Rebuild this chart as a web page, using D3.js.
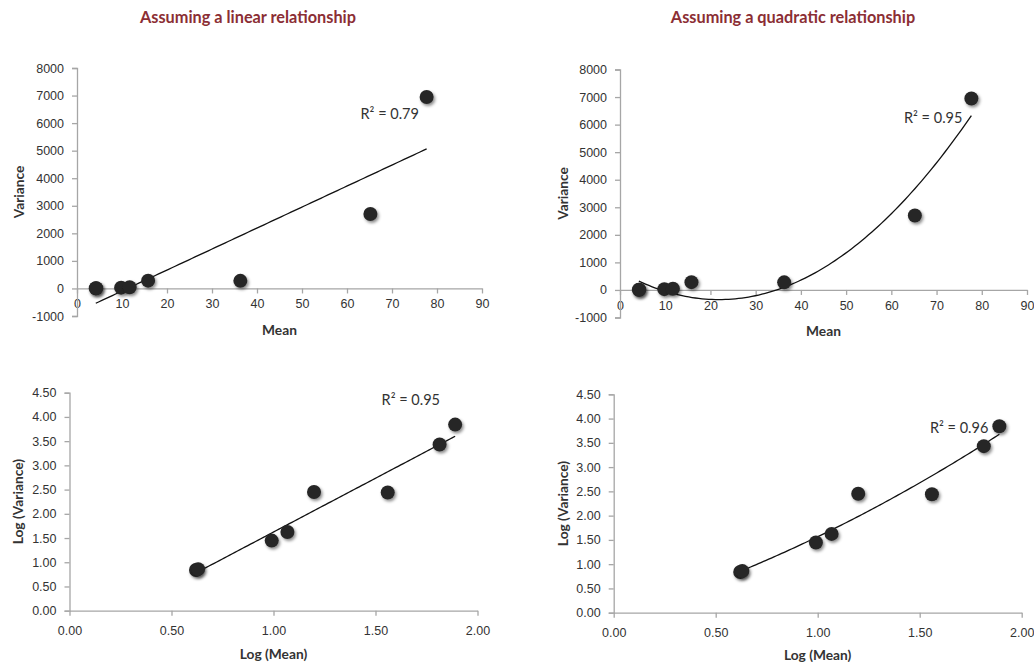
<!DOCTYPE html>
<html>
<head>
<meta charset="utf-8">
<script src="https://cdn.jsdelivr.net/npm/d3@7"></script>
<style>
  html, body { margin: 0; padding: 0; background: #fff; }
  svg { display: block; font-family: Lato, "Open Sans", sans-serif; }
  .tick text { font-size: 12.5px; fill: #333; }
  .axis path, .axis line { stroke: #a6a6a6; stroke-width: 1.3; }
  .ax-label { font-size: 13.75px; font-weight: bold; fill: #333; }
  .title { font-size: 16.3px; font-weight: bold; fill: #8b2e34; }
  .r2 { font-size: 14.5px; fill: #333; }
</style>
</head>
<body>
<svg id="chart" width="1034" height="662"></svg>
<script>
const means     = [4.17, 4.27, 9.8, 11.7, 15.8, 36.3, 65.2, 77.7];
const variances = [6.9, 7.2, 28, 42, 282, 275, 2700, 6950];

const rawXTicks = [0, 10, 20, 30, 40, 50, 60, 70, 80, 90];
const rawYTicks = [-1000, 0, 1000, 2000, 3000, 4000, 5000, 6000, 7000, 8000];
const logXTicks = [0, 0.5, 1, 1.5, 2];
const logYTicks = [0, 0.5, 1, 1.5, 2, 2.5, 3, 3.5, 4, 4.5];

const titles = ["Assuming a linear relationship", "Assuming a quadratic relationship"];
// R² as printed on each panel (top-left, top-right, bottom-left, bottom-right)
const r2Labels = ["R² = 0.79", "R² = 0.95", "R² = 0.95", "R² = 0.96"];

const svg = d3.select("#chart");

// drop shadow for markers, like the excel default
const defs = svg.append("defs");
defs.append("filter").attr("id", "shadow")
  .attr("x", "-50%").attr("y", "-50%").attr("width", "200%").attr("height", "200%")
  .append("feDropShadow")
  .attr("dx", 1.5).attr("dy", 2).attr("stdDeviation", 1.4)
  .attr("flood-color", "#000").attr("flood-opacity", 0.45);

// least squares polynomial fit (degree 1 or 2), returns coefficients c0..cn
function polyFit(xs, ys, deg) {
  const n = deg + 1;
  const A = [];
  for (let i = 0; i < n; i++) {
    A.push([]);
    for (let j = 0; j < n; j++) A[i].push(d3.sum(xs, x => Math.pow(x, i + j)));
    A[i].push(d3.sum(xs, (x, k) => ys[k] * Math.pow(x, i)));
  }
  // gauss elimination
  for (let i = 0; i < n; i++) {
    for (let r = i + 1; r < n; r++) {
      const f = A[r][i] / A[i][i];
      for (let c = i; c <= n; c++) A[r][c] -= f * A[i][c];
    }
  }
  const coef = new Array(n).fill(0);
  for (let i = n - 1; i >= 0; i--) {
    let s = A[i][n];
    for (let j = i + 1; j < n; j++) s -= A[i][j] * coef[j];
    coef[i] = s / A[i][i];
  }
  return coef;
}

function polyEval(coef, x) {
  return coef.reduce((s, c, i) => s + c * Math.pow(x, i), 0);
}

function drawPanel(cfg) {
  const xs = cfg.xs, ys = cfg.ys;
  const x = d3.scaleLinear().domain(cfg.xDomain).range(cfg.xRange);
  const y = d3.scaleLinear().domain(cfg.yDomain).range(cfg.yRange);
  const g = svg.append("g");

  // x axis sits on y = 0
  g.append("g").attr("class", "axis")
    .attr("transform", `translate(0,${y(0)})`)
    .call(d3.axisBottom(x).tickValues(cfg.xTicks).tickSize(5).tickPadding(cfg.xPad).tickSizeOuter(0).tickFormat(cfg.xFmt));

  g.append("g").attr("class", "axis")
    .attr("transform", `translate(${x(cfg.xDomain[0])},0)`)
    .call(d3.axisLeft(y).tickValues(cfg.yTicks).tickSize(5).tickPadding(cfg.yPad).tickSizeOuter(5).tickFormat(cfg.yFmt));

  // axis titles
  g.append("text").attr("class", "ax-label")
    .attr("x", d3.mean(cfg.xRange)).attr("y", cfg.xLabelY)
    .attr("text-anchor", "middle").attr("dominant-baseline", "central")
    .text(cfg.xLabel);
  g.append("text").attr("class", "ax-label")
    .attr("transform", `translate(${cfg.yLabelX},${d3.mean(cfg.yRange)}) rotate(-90)`)
    .attr("text-anchor", "middle").attr("dominant-baseline", "central")
    .text(cfg.yLabel);

  // trend line
  const coef = polyFit(xs, ys, cfg.deg);
  const [x0, x1] = d3.extent(xs);
  const pts = d3.range(0, 101).map(i => {
    const xv = x0 + (x1 - x0) * i / 100;
    return [xv, polyEval(coef, xv)];
  });
  g.append("path")
    .attr("d", d3.line().x(d => x(d[0])).y(d => y(d[1]))(pts))
    .attr("fill", "none").attr("stroke", "#111").attr("stroke-width", 1.3);

  // points
  g.selectAll("circle.pt").data(xs).join("circle")
    .attr("class", "pt")
    .attr("cx", d => x(d))
    .attr("cy", (d, i) => y(ys[i]))
    .attr("r", 7)
    .attr("fill", "#262626")
    .attr("filter", "url(#shadow)");

  g.append("text").attr("class", "r2")
    .attr("x", x(cfg.r2At[0])).attr("y", y(cfg.r2At[1]))
    .attr("dominant-baseline", "central")
    .text(cfg.r2);

  return g;
}

const logMeans = means.map(Math.log10);
const logVars = variances.map(Math.log10);
const intFmt = d => String(d);
const decFmt = d3.format(".2f");

// top row: raw values
drawPanel({
  xs: means, ys: variances, deg: 1, r2: r2Labels[0],
  xDomain: [0, 90], xRange: [77, 482], yDomain: [-1000, 8000], yRange: [316, 68],
  xTicks: rawXTicks, yTicks: rawYTicks, xFmt: intFmt, yFmt: intFmt, xPad: 6, yPad: 8,
  xLabel: "Mean", yLabel: "Variance", xLabelY: 329, yLabelX: 18,
  r2At: [63, 6350]
});
drawPanel({
  xs: means, ys: variances, deg: 2, r2: r2Labels[1],
  xDomain: [0, 90], xRange: [620, 1027], yDomain: [-1000, 8000], yRange: [317.5, 69.5],
  xTicks: rawXTicks, yTicks: rawYTicks, xFmt: intFmt, yFmt: intFmt, xPad: 6, yPad: 8,
  xLabel: "Mean", yLabel: "Variance", xLabelY: 330, yLabelX: 562,
  r2At: [62.8, 6250]
});

// bottom row: log10 values
drawPanel({
  xs: logMeans, ys: logVars, deg: 1, r2: r2Labels[2],
  xDomain: [0, 2], xRange: [69.5, 477.5], yDomain: [0, 4.5], yRange: [610.7, 392.7],
  xTicks: logXTicks, yTicks: logYTicks, xFmt: decFmt, yFmt: decFmt, xPad: 10, yPad: 8,
  xLabel: "Log (Mean)", yLabel: "Log (Variance)", xLabelY: 653, yLabelX: 17,
  r2At: [1.53, 4.35]
});
drawPanel({
  xs: logMeans, ys: logVars, deg: 2, r2: r2Labels[3],
  xDomain: [0, 2], xRange: [613.7, 1021.7], yDomain: [0, 4.5], yRange: [612.7, 394.3],
  xTicks: logXTicks, yTicks: logYTicks, xFmt: decFmt, yFmt: decFmt, xPad: 10, yPad: 8,
  xLabel: "Log (Mean)", yLabel: "Log (Variance)", xLabelY: 654, yLabelX: 562,
  r2At: [1.55, 3.81]
});

// column titles
svg.selectAll("text.title").data(titles).join("text")
  .attr("class", "title")
  .attr("x", (d, i) => i === 0 ? 248 : 793)
  .attr("y", 16)
  .attr("text-anchor", "middle").attr("dominant-baseline", "central")
  .text(d => d);
</script>
</body>
</html>
